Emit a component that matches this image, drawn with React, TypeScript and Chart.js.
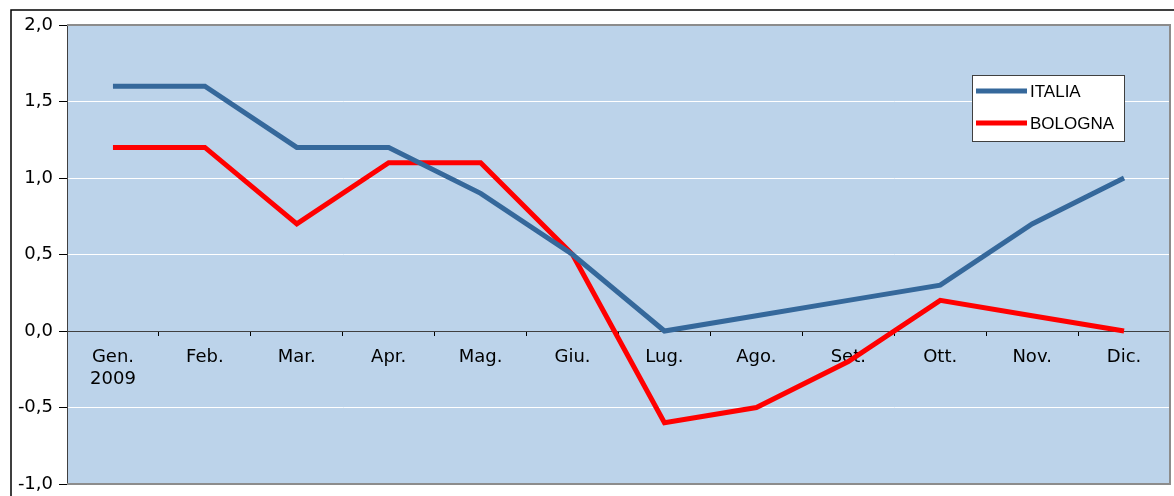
import React, { useEffect, useRef } from 'react';
import { Chart, registerables } from 'chart.js';
Chart.register(...registerables);

const months: (string | string[])[] = [['Gen.', '2009'], 'Feb.', 'Mar.', 'Apr.', 'Mag.', 'Giu.', 'Lug.', 'Ago.', 'Set.', 'Ott.', 'Nov.', 'Dic.'];
const italia = [1.6, 1.6, 1.2, 1.2, 0.9, 0.5, 0.0, 0.1, 0.2, 0.3, 0.7, 1.0];
const bologna = [1.2, 1.2, 0.7, 1.1, 1.1, 0.5, -0.6, -0.5, -0.2, 0.2, 0.1, 0.0];
const seriesNames = ['ITALIA', 'BOLOGNA'];
const seriesColors = ['#35689B', '#FF0000'];

export default function App() {
  const ref = useRef<HTMLCanvasElement>(null);
  useEffect(() => {
    document.body.style.margin = '0';
    const plugin = {
      id: 'decor',
      beforeDraw(chart: any) {
        const { ctx, chartArea: a } = chart;
        ctx.save();
        ctx.fillStyle = '#ffffff';
        ctx.fillRect(0, 0, chart.width, chart.height);
        ctx.strokeStyle = '#000000';
        ctx.lineWidth = 1.5;
        ctx.strokeRect(11, 10, chart.width + 20, chart.height + 20);
        ctx.fillStyle = '#BCD3EA';
        ctx.fillRect(a.left, a.top, a.right - a.left, a.bottom - a.top);
        ctx.restore();
      },
      afterDraw(chart: any) {
        const { ctx, chartArea: a } = chart;
        ctx.save();
        ctx.strokeStyle = '#8C8C8C';
        ctx.lineWidth = 2;
        ctx.beginPath();
        ctx.moveTo(a.left, a.top);
        ctx.lineTo(a.right, a.top);
        ctx.lineTo(a.right, a.bottom);
        ctx.lineTo(a.left, a.bottom);
        ctx.stroke();
        // legend
        const lx = 972, ly = 75, lw = 152, lh = 66;
        ctx.fillStyle = '#ffffff';
        ctx.fillRect(lx, ly, lw, lh);
        ctx.strokeStyle = '#404040';
        ctx.lineWidth = 1;
        ctx.strokeRect(lx + 0.5, ly + 0.5, lw, lh);
        const rows = [91, 123];
        seriesNames.forEach((n, i) => {
          ctx.strokeStyle = seriesColors[i];
          ctx.lineWidth = 5;
          ctx.beginPath();
          ctx.moveTo(976, rows[i]);
          ctx.lineTo(1027, rows[i]);
          ctx.stroke();
          ctx.fillStyle = '#000000';
          ctx.font = '17px "Liberation Sans", Arial, sans-serif';
          ctx.textBaseline = 'middle';
          ctx.textAlign = 'left';
          ctx.fillText(n, 1030, rows[i] + 1);
        });
        ctx.restore();
      },
    };
    const chart = new Chart(ref.current!, {
      type: 'line',
      data: {
        labels: months,
        datasets: [
          { label: seriesNames[0], data: italia, borderColor: seriesColors[0], borderWidth: 5, pointRadius: 0, tension: 0, fill: false },
          { label: seriesNames[1], data: bologna, borderColor: seriesColors[1], borderWidth: 5, pointRadius: 0, tension: 0, fill: false },
        ],
      },
      options: {
        responsive: false,
        animation: false,
        layout: { padding: { top: 25, right: 4, bottom: 12, left: 0 } },
        plugins: { legend: { display: false }, tooltip: { enabled: false } },
        scales: {
          x: {
            position: { y: 0 } as any,
            offset: true,
            grid: { display: true, drawOnChartArea: false, drawTicks: true, tickLength: 4, offset: true, tickColor: '#000000' },
            border: { display: true, color: '#404040', width: 1 },
            ticks: {
              autoSkip: false,
              maxRotation: 0,
              padding: 12,
              color: '#000000',
              font: { family: '"DejaVu Sans", Verdana, sans-serif', size: 18, lineHeight: 1.2 },
            },
          },
          y: {
            min: -1,
            max: 2,
            afterFit(scale: any) { scale.width = 67; scale.paddingTop = 0; scale.paddingBottom = 0; },
            grid: { color: '#ffffff', lineWidth: 1, tickColor: '#000000', tickLength: 8, drawTicks: true },
            border: { display: true, color: '#404040', width: 1 },
            ticks: {
              stepSize: 0.5,
              padding: 6,
              color: '#000000',
              font: { family: '"DejaVu Sans", Verdana, sans-serif', size: 18 },
              callback: (v: any) => Number(v).toFixed(1).replace('.', ','),
            },
          },
        },
      },
      plugins: [plugin],
    });
    return () => chart.destroy();
  }, []);
  return <canvas ref={ref} width={1174} height={496} style={{ display: 'block' }} />;
}
